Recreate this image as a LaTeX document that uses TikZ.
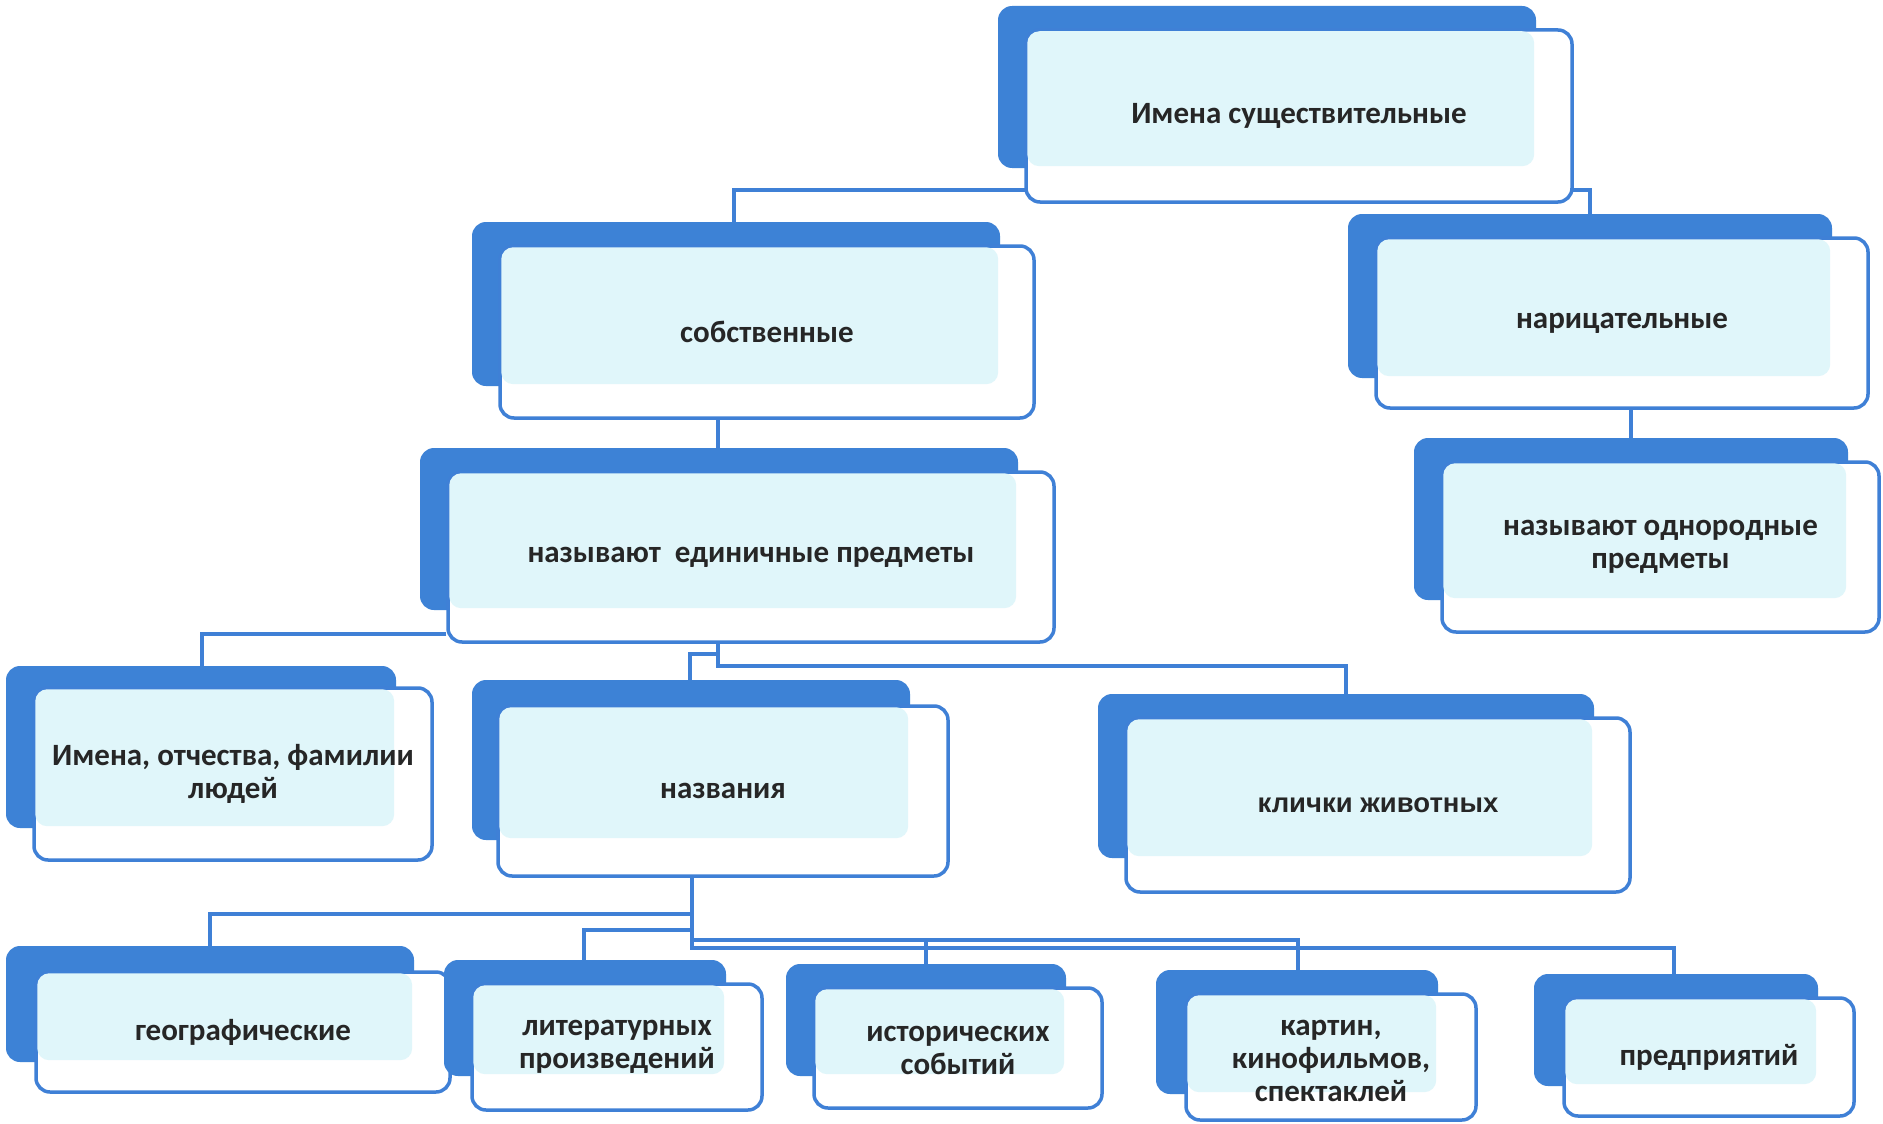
\documentclass[tikz,border=0pt]{standalone}
\usepackage{fontspec}
\setmainfont{Carlito}
\newfontfamily\arialf{Liberation Sans}
\usetikzlibrary{fit,backgrounds}
\definecolor{backblue}{HTML}{3D82D6}
\definecolor{lineblue}{HTML}{3F80D6}
\definecolor{lightcyan}{HTML}{E0F6FA}
\tikzset{
 backbox/.style={fill=backblue, rounded corners=14pt, inner sep=0pt, draw=none},
 frontbox/.style={fill=white, draw=lineblue, line width=3.5pt, rounded corners=14pt, inner sep=0pt},
 conn/.style={draw=lineblue, line width=3.5pt},
 txt/.style={font=\bfseries\fontsize{31}{33}\selectfont, align=center, text=black!85, inner sep=0pt},
 txtb/.style={font=\arialf\bfseries\fontsize{27.5}{30}\selectfont, align=center, text=black!85, inner sep=0pt},
}
\newcommand\dbox[9]{%
 \node[backbox, fit={(#2,#3) (#4,#5)}] (#1-b) {};
 \node[frontbox, fit={(#6,#7) (#8,#9)}] (#1) {};
 \fill[lightcyan, rounded corners=12pt] ([shift={(3pt,-3pt)}]#1.north west) rectangle ([shift={(-2pt,2pt)}]#1-b.south east);
}
\begin{document}
\begin{tikzpicture}[x=1pt,y=-1pt]
\useasboundingbox (0,0) rectangle (1883,1124);
% junction coordinates
\coordinate (j1) at (734,190);
\coordinate (j2) at (1590,190);
\coordinate (e1) at (202,634);
\coordinate (ea) at (718,666);
\coordinate (eb) at (1346,666);
\coordinate (ec) at (690,654);
\coordinate (n0) at (692,948);
\coordinate (ng) at (210,914);
\coordinate (nl) at (584,930);
\coordinate (ni) at (926,940);
\coordinate (nk) at (1298,940);
\coordinate (np) at (1674,948);

% ---- level 1
\dbox{top}{998}{6}{1536}{168}{1026}{30}{1572}{202}
\node[txt] (top-t) at (top) {Имена существительные};

% ---- level 2
\dbox{sob}{472}{222}{1000}{386}{500}{246}{1034}{418}
\node[txt] (sob-t) at (sob) {собственные};
\dbox{nar}{1348}{214}{1832}{378}{1376}{238}{1868}{408}
\node[txt] (nar-t) at (nar) {нарицательные};

% ---- level 3
\dbox{odn}{1414}{438}{1848}{600}{1442}{462}{1879}{632}
\node[txt] (odn-t) at (odn) {называют однородные\\предметы};
\dbox{edin}{420}{448}{1018}{610}{448}{472}{1054}{642}
\node[txt] (edin-t) at (edin) {называют\ \ единичные предметы};

% ---- level 4
\dbox{fio}{6}{666}{396}{828}{34}{688}{432}{860}
\node[txt] (fio-t) at (fio) {Имена, отчества, фамилии\\людей};
\dbox{naz}{472}{680}{910}{840}{498}{706}{948}{876}
\node[txt] (naz-t) at (naz) {названия};
\dbox{klich}{1098}{694}{1594}{858}{1126}{718}{1630}{892}
\node[txtb] (klich-t) at (klich) {клички животных};

% ---- level 5
\dbox{geo}{6}{946}{414}{1062}{36}{972}{450}{1092}
\node[txt] (geo-t) at (geo) {географические};
\dbox{lit}{444}{960}{726}{1076}{472}{984}{762}{1110}
\node[txt] (lit-t) at (lit) {литературных\\произведений};
\dbox{ist}{786}{964}{1066}{1076}{814}{988}{1102}{1108}
\node[txt] (ist-t) at ([yshift=-2pt]ist) {исторических\\событий};
\dbox{kart}{1156}{970}{1438}{1094}{1186}{994}{1476}{1120}
\node[txt] (kart-t) at ([yshift=-4pt]kart) {картин,\\кинофильмов,\\спектаклей};
\dbox{pred}{1534}{974}{1818}{1086}{1564}{998}{1854}{1116}
\node[txt] (pred-t) at (pred) {предприятий};

% ---- connectors (behind the boxes)
\begin{scope}[on background layer]
\fill[white] (0,0) rectangle (1883,1124);
\draw[conn] (sob-b.north -| j1) -- (j1) -- (j2) -- (nar-b.north -| j2);
\draw[conn] (nar.south -| odn-b.north) -- (odn-b.north);
\draw[conn] (sob.south -| ea) -- (edin-b.north -| ea);
\draw[conn] (edin.west |- e1) -- (e1) -- (fio-b.north -| e1);
\draw[conn] (edin.south -| ea) -- (ea) -- (eb) -- (klich-b.north -| eb);
\draw[conn] (ea |- ec) -- (ec) -- (naz-b.north -| ec);
\draw[conn] (naz.south -| n0) -- (n0) -- (np) -- (pred-b.north -| np);
\draw[conn] (n0 |- ng) -- (ng) -- (geo-b.north -| ng);
\draw[conn] (n0 |- nl) -- (nl) -- (lit-b.north -| nl);
\draw[conn] (n0 |- nk) -- (nk) -- (kart-b.north -| nk);
\draw[conn] (ni) -- (ist-b.north -| ni);
\end{scope}
\end{tikzpicture}
\end{document}
